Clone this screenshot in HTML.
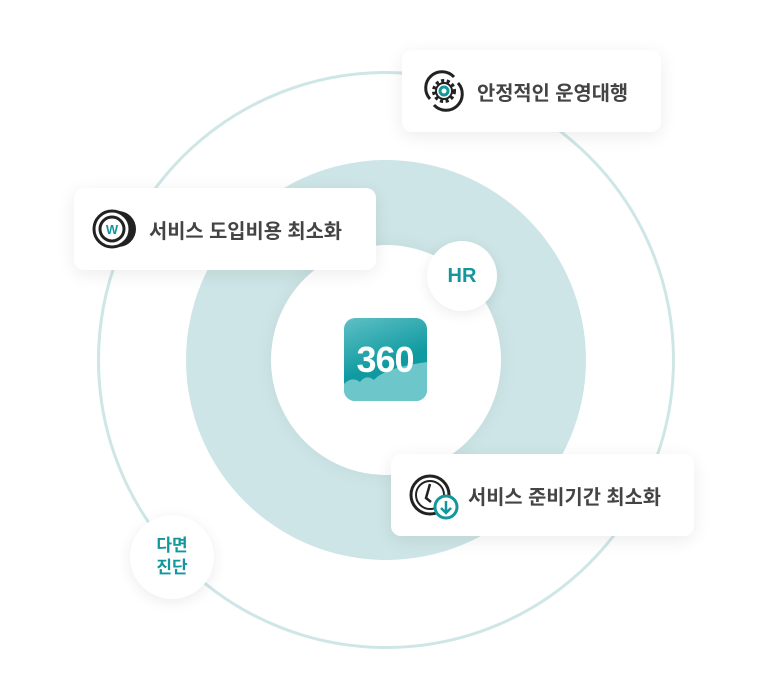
<!DOCTYPE html>
<html><head><meta charset="utf-8"><style>
body{margin:0;width:768px;height:700px;background:#fff;position:relative;overflow:hidden;font-family:"Liberation Sans","Noto Sans CJK KR",sans-serif}
.a{position:absolute}
.card{position:absolute;background:#fff;border-radius:10px;box-shadow:0 4px 18px rgba(0,0,0,0.08);display:flex;align-items:center;font-size:19.8px;color:#444;font-weight:600}
.circ{position:absolute;border-radius:50%;background:#fff;box-shadow:0 3px 14px rgba(0,0,0,0.08);display:flex;align-items:center;justify-content:center;color:#13979c;font-weight:700;text-align:center}
</style></head><body>
<div class="a" style="left:97px;top:71px;width:572px;height:572px;border:3px solid #cfe6e7;border-radius:50%"></div>
<div class="a" style="left:186px;top:160px;width:400px;height:400px;background:#cde5e6;border-radius:50%"></div>
<div class="a" style="left:271px;top:245px;width:230px;height:230px;background:#fff;border-radius:50%;box-shadow:0 0 20px rgba(0,0,0,0.05)"></div>
<div class="a" style="left:344px;top:318px;width:83px;height:83px;border-radius:11px;overflow:hidden;background:linear-gradient(160deg,#5fc0c5,#0e9aa0 55%)">
<svg width="83" height="83" style="position:absolute;left:0;top:0"><path d="M0 66 Q8 58 16 64 Q22 56 30 62 Q40 50 83 44 L83 83 L0 83Z" fill="#6cc6ca"/><text x="41" y="54" text-anchor="middle" font-family="Liberation Sans" font-weight="700" font-size="36" fill="#fff" letter-spacing="-1">360</text></svg></div>
<div class="circ" style="left:427px;top:241px;width:70px;height:70px;font-size:20px">HR</div>
<div class="circ" style="left:130px;top:515px;width:84px;height:84px;font-size:17px;line-height:22px">다면<br>진단</div>
<div class="card" style="left:402px;top:50px;width:259px;height:82px">
<svg class="a" style="left:20px;top:19px" width="44" height="44" viewBox="0 0 44 44"><path d="M8 30 A16 16 0 0 1 32 8" fill="none" stroke="#222" stroke-width="3"/><path d="M36 14 A16 16 0 0 1 12 36" fill="none" stroke="#222" stroke-width="3"/><circle cx="22" cy="22" r="10" fill="none" stroke="#222" stroke-width="4" stroke-dasharray="3 2.5"/><circle cx="22" cy="22" r="8" fill="none" stroke="#222" stroke-width="2"/><circle cx="22" cy="22" r="4" fill="none" stroke="#13979c" stroke-width="3"/></svg>
<span style="margin-left:75px">안정적인 운영대행</span></div>
<div class="card" style="left:74px;top:188px;width:302px;height:82px">
<svg class="a" style="left:18px;top:21px" width="48" height="40" viewBox="0 0 48 40"><circle cx="26" cy="20" r="18" fill="#222"/><circle cx="20" cy="20" r="18" fill="#fff" stroke="#222" stroke-width="3"/><circle cx="20" cy="20" r="12" fill="none" stroke="#222" stroke-width="3"/><text x="20" y="25" text-anchor="middle" font-size="13" font-weight="700" fill="#13979c" font-family="Liberation Sans">W</text></svg>
<span style="margin-left:75px">서비스 도입비용 최소화</span></div>
<div class="card" style="left:391px;top:454px;width:303px;height:82px">
<svg class="a" style="left:18px;top:20px" width="50" height="48" viewBox="0 0 50 48"><circle cx="21" cy="21" r="19" fill="none" stroke="#222" stroke-width="3"/><circle cx="21" cy="21" r="14" fill="none" stroke="#222" stroke-width="2"/><path d="M21 10 L17 24 L22 28" fill="none" stroke="#222" stroke-width="2.5"/><circle cx="37" cy="33" r="11" fill="#fff" stroke="#13979c" stroke-width="3"/><path d="M37 27 V38 M32 34 L37 39 L42 34" fill="none" stroke="#13979c" stroke-width="2.5"/></svg>
<span style="margin-left:77px">서비스 준비기간 최소화</span></div>
</body></html>
